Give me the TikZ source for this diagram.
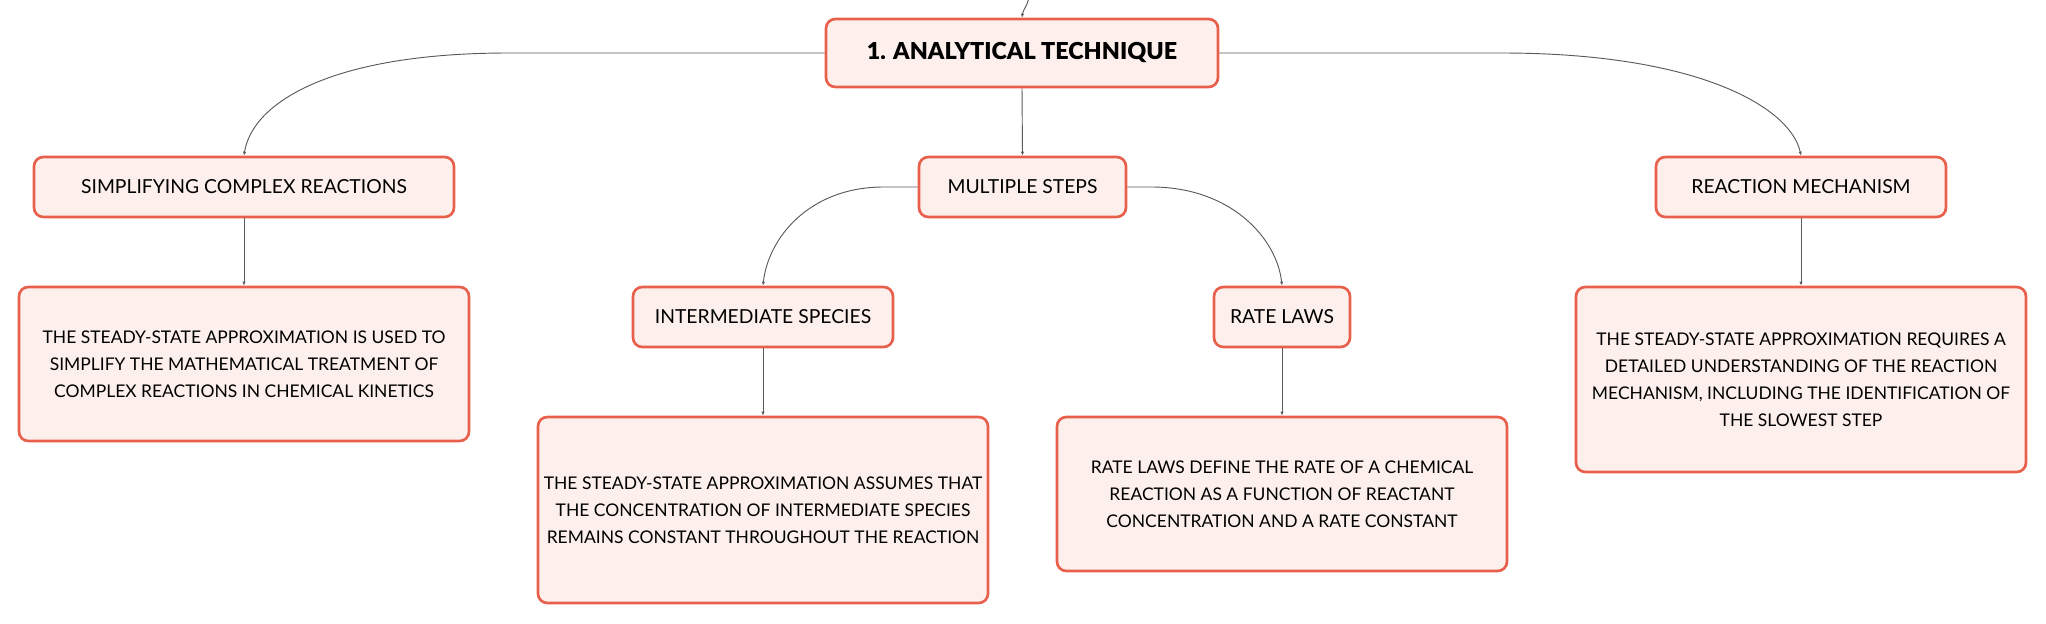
\documentclass[tikz,border=0pt]{standalone}
\usepackage{fontspec}
\setmainfont{Lato}
\newfontfamily\titlefont{Lato Black}
\usetikzlibrary{arrows.meta}
\definecolor{boxline}{HTML}{E8604C}
\definecolor{boxfill}{HTML}{FDF0EC}
\definecolor{conncol}{HTML}{5A5A5A}
\tikzset{
  mapbox/.style={draw=boxline, fill=boxfill, line width=2pt, rounded corners=7pt,
    inner sep=0pt, align=center, text=black,
    font=\fontsize{14.5}{20.25}\selectfont},
  notebox/.style={mapbox, font=\fontsize{13.1}{20.25}\selectfont},
  rootbox/.style={mapbox, font=\fontsize{17.5}{20}\selectfont\titlefont},
  conn/.style={draw=conncol, line width=0.7pt, -{Latex[length=3pt,width=2.5pt]}}
}
\begin{document}
\begin{tikzpicture}[x=0.75pt,y=-0.75pt]
\useasboundingbox (0,0) rectangle (2046,624);
% nodes
\node[rootbox, minimum width=294pt, minimum height=51pt] (root) at (1022,53) {1. ANALYTICAL TECHNIQUE};
\node[mapbox, minimum width=155.25pt, minimum height=45pt] (ms) at (1022.5,187) {MULTIPLE STEPS};
\node[mapbox, minimum width=315pt, minimum height=45pt] (scr) at (244,187) {SIMPLIFYING COMPLEX REACTIONS};
\node[mapbox, minimum width=217.5pt, minimum height=45pt] (rm) at (1801,187) {REACTION MECHANISM};
\node[notebox, minimum width=337.5pt, minimum height=115.5pt] (d1) at (244,364) {THE STEADY-STATE APPROXIMATION IS USED TO\\SIMPLIFY THE MATHEMATICAL TREATMENT OF\\COMPLEX REACTIONS IN CHEMICAL KINETICS};
\node[mapbox, minimum width=195pt, minimum height=45pt] (is) at (763,317) {INTERMEDIATE SPECIES};
\node[mapbox, minimum width=102pt, minimum height=45pt] (rl) at (1282,317) {RATE LAWS};
\node[notebox, minimum width=337.5pt, minimum height=139.5pt] (di) at (763,510) {THE STEADY-STATE APPROXIMATION ASSUMES THAT\\THE CONCENTRATION OF INTERMEDIATE SPECIES\\REMAINS CONSTANT THROUGHOUT THE REACTION};
\node[notebox, minimum width=337.5pt, minimum height=115.5pt] (dr) at (1282,494) {RATE LAWS DEFINE THE RATE OF A CHEMICAL\\REACTION AS A FUNCTION OF REACTANT\\CONCENTRATION AND A RATE CONSTANT};
\node[notebox, minimum width=337.5pt, minimum height=138.75pt] (dm) at (1801,379.5) {THE STEADY-STATE APPROXIMATION REQUIRES A\\DETAILED UNDERSTANDING OF THE REACTION\\MECHANISM, INCLUDING THE IDENTIFICATION OF\\THE SLOWEST STEP};
\coordinate (in) at (1029,-3);
% connectors
\draw[conn] (in) .. controls +(-2,10) and +(1,-8) .. (root.north);
\draw[conn] (root.west) -- +(-316,0) .. controls +(-180,0) and +(8,-52) .. (scr.north);
\draw[conn] (root.east) -- +(282,0) .. controls +(200,0) and +(-10,-47) .. (rm.north);
\draw[conn] (root.south) -- (ms.north);
\draw[conn] (ms.west) -- +(-34,0) .. controls +(-75,0) and +(5,-47) .. (is.north);
\draw[conn] (ms.east) -- +(24,0) .. controls +(80,0) and +(-5,-47) .. (rl.north);
\draw[conn] (scr.south) -- (d1.north);
\draw[conn] (is.south) -- (di.north);
\draw[conn] (rl.south) -- (dr.north);
\draw[conn] (rm.south) -- (dm.north);
\end{tikzpicture}
\end{document}
